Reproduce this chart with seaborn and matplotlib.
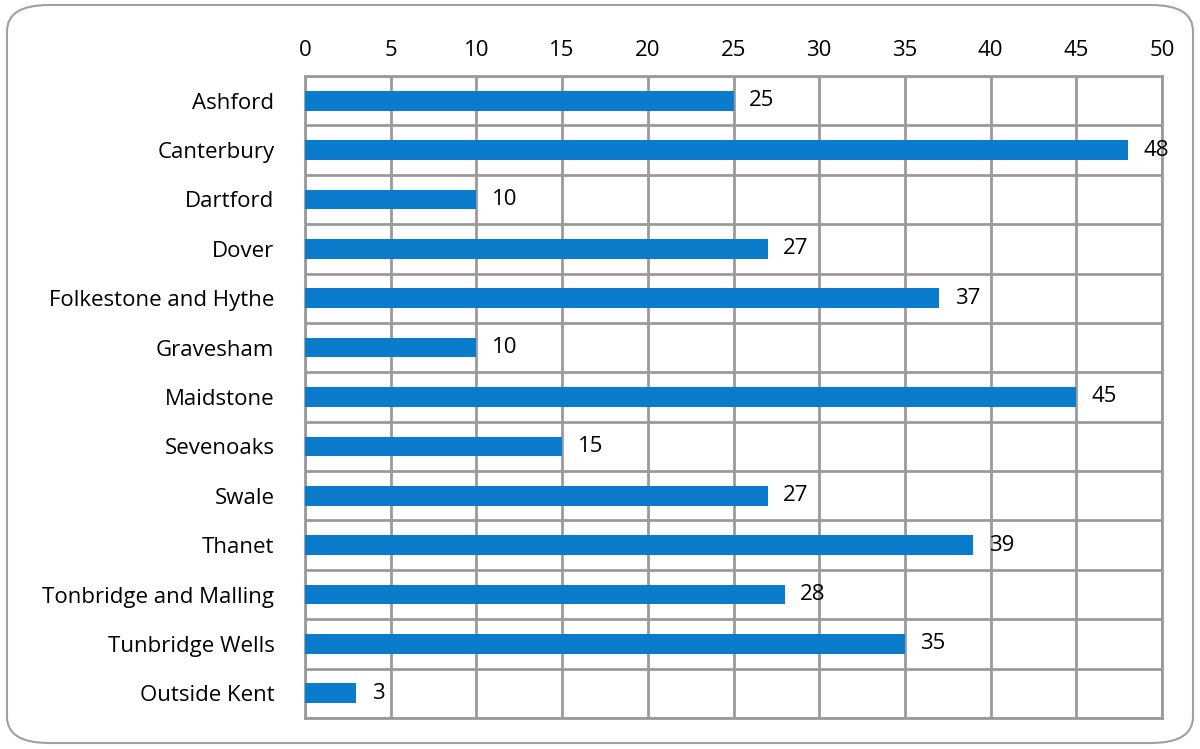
import numpy as np
import pandas as pd
import seaborn as sns
import matplotlib.pyplot as plt
from matplotlib.patches import FancyBboxPatch
from matplotlib.ticker import MultipleLocator, FixedLocator

# Data
districts = ['Ashford', 'Canterbury', 'Dartford', 'Dover', 'Folkestone and Hythe',
             'Gravesham', 'Maidstone', 'Sevenoaks', 'Swale', 'Thanet',
             'Tonbridge and Malling', 'Tunbridge Wells', 'Outside Kent']
counts = [25, 48, 10, 27, 37, 10, 45, 15, 27, 39, 28, 35, 3]

df = pd.DataFrame({'District': districts, 'Count': counts})

sns.set_theme(style="white")
plt.rcParams['font.family'] = ['Open Sans', 'DejaVu Sans']
plt.rcParams['text.color'] = 'black'
plt.rcParams['xtick.color'] = 'black'
plt.rcParams['ytick.color'] = 'black'

fig = plt.figure(figsize=(12, 7.49), dpi=100)
ax = fig.add_axes([305 / 1200, 1 - 718 / 749, (1162 - 305) / 1200, (718 - 76) / 749])

sns.barplot(data=df, x='Count', y='District', color='#0B7BCC', width=0.4,
            saturation=1, linewidth=0, ax=ax, zorder=3)

grid_col = '#9a9a9a'
ax.set_xlim(0, 50)
ax.set_ylim(len(districts) - 0.5, -0.5)
ax.xaxis.set_major_locator(MultipleLocator(5))
ax.xaxis.tick_top()
ax.yaxis.set_minor_locator(FixedLocator(np.arange(-0.5, len(districts), 1)))
ax.grid(axis='x', which='major', color=grid_col, linewidth=2, zorder=0)
ax.grid(axis='y', which='minor', color=grid_col, linewidth=2, zorder=0)
ax.tick_params(axis='x', which='both', length=0, labelsize=16, pad=11)
ax.tick_params(axis='y', which='both', length=0, labelsize=16, pad=22)
ax.set_xlabel('')
ax.set_ylabel('')
for s in ax.spines.values():
    s.set_color(grid_col)
    s.set_linewidth(2)

# Direct labels
for i, v in enumerate(counts):
    ax.text(v + 0.9, i, f'{v}', va='center', ha='left', fontsize=16,
            color='black', zorder=4)

# Rounded outer border
border = FancyBboxPatch((7 / 1200, 6 / 749), 1186 / 1200, 738 / 749,
                        boxstyle='round,pad=0,rounding_size=0.035',
                        transform=fig.transFigure, fill=False,
                        edgecolor='#a0a0a0', linewidth=1.5)
fig.patches.append(border)

plt.savefig('out.png', dpi=100)
